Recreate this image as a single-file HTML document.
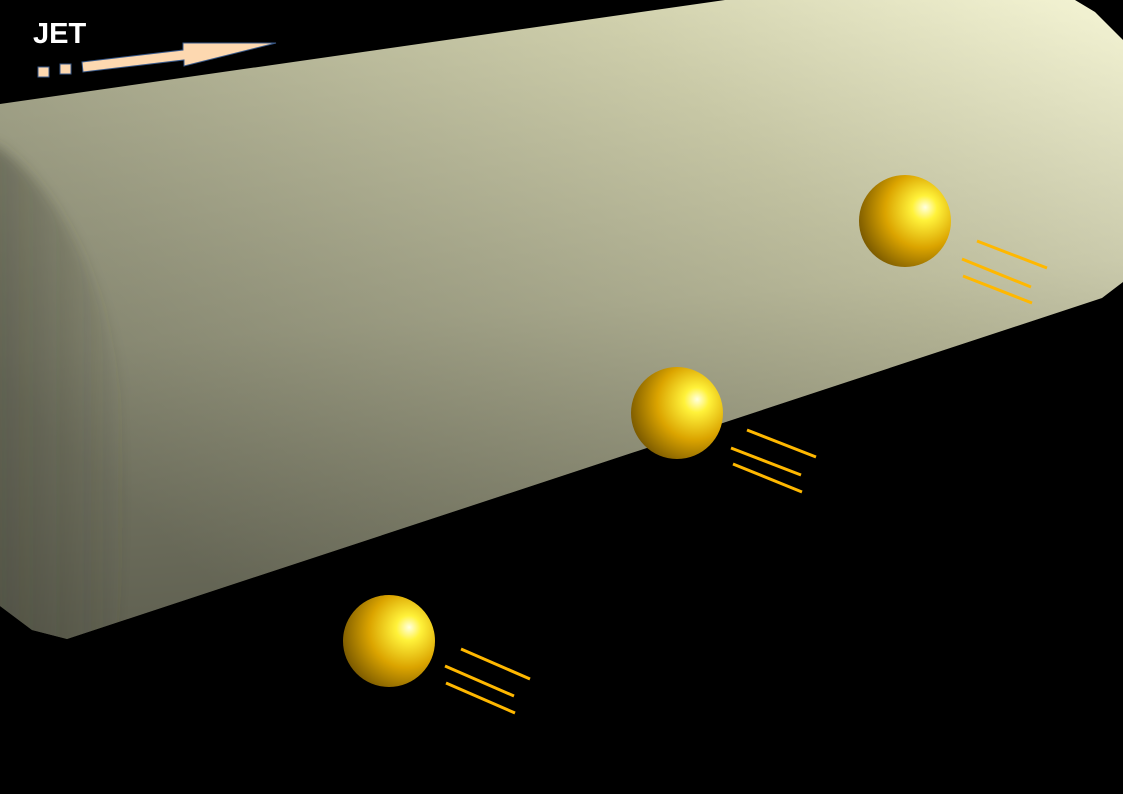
<!DOCTYPE html>
<html><head><meta charset="utf-8"><style>
html,body{margin:0;padding:0;background:#000;width:1123px;height:794px;overflow:hidden}
svg{display:block}
</style></head><body>
<svg width="1123" height="794" viewBox="0 0 1123 794">
<defs>
<linearGradient id="cylLong" x1="1" y1="0" x2="0" y2="0.6">
<stop offset="0" stop-color="#fbfbda"/>
<stop offset="0.35" stop-color="#d2d2ae"/>
<stop offset="1" stop-color="#8e8f78"/>
</linearGradient>
<linearGradient id="cylShade" x1="0.3" y1="0" x2="0.45" y2="1">
<stop offset="0" stop-color="#000" stop-opacity="0"/>
<stop offset="0.5" stop-color="#000" stop-opacity="0.12"/>
<stop offset="1" stop-color="#000" stop-opacity="0.35"/>
</linearGradient>
<linearGradient id="cap" x1="0" y1="0" x2="1" y2="0">
<stop offset="0" stop-color="#3f4035" stop-opacity="0.5"/>
<stop offset="0.7" stop-color="#3f4035" stop-opacity="0.2"/>
<stop offset="1" stop-color="#3f4035" stop-opacity="0.03"/>
</linearGradient>
<filter id="soft" x="-20%" y="-20%" width="140%" height="140%"><feGaussianBlur stdDeviation="6"/></filter>
<clipPath id="cylClip"><polygon points="0,104 725,0 1075,0 1095,12 1123,40 1123,282 1102,298 67,639 32,630 0,606"/></clipPath>
<radialGradient id="ball" cx="0.68" cy="0.4" r="0.75" fx="0.72" fy="0.35">
<stop offset="0" stop-color="#ffffe0"/>
<stop offset="0.18" stop-color="#fff23a"/>
<stop offset="0.55" stop-color="#dba400"/>
<stop offset="1" stop-color="#6e5000"/>
</radialGradient>
</defs>
<g>
<polygon points="0,104 725,0 1075,0 1095,12 1123,40 1123,282 1102,298 67,639 32,630 0,606" fill="url(#cylLong)"/>
<polygon points="0,104 725,0 1075,0 1095,12 1123,40 1123,282 1102,298 67,639 32,630 0,606" fill="url(#cylShade)"/>
<g clip-path="url(#cylClip)">
<path d="M-20,140 L0,148 C60,190 110,290 122,400 C128,480 125,560 118,640 L-20,660 Z" fill="url(#cap)" filter="url(#soft)"/>
</g>
</g>
<g>
<circle cx="905" cy="221" r="46" fill="url(#ball)"/>
<g stroke="#ffb800" stroke-width="3"><line x1="977" y1="241" x2="1047" y2="268"/><line x1="962" y1="259" x2="1031" y2="287"/><line x1="963" y1="276" x2="1032" y2="303"/></g>
</g>
<g>
<circle cx="677" cy="413" r="46" fill="url(#ball)"/>
<g stroke="#ffb800" stroke-width="3"><line x1="747" y1="430" x2="816" y2="457"/><line x1="731" y1="448" x2="801" y2="475"/><line x1="733" y1="464" x2="802" y2="492"/></g>
</g>
<g>
<circle cx="389" cy="641" r="46" fill="url(#ball)"/>
<g stroke="#ffb800" stroke-width="3"><line x1="461" y1="649" x2="530" y2="679"/><line x1="445" y1="666" x2="514" y2="696"/><line x1="446" y1="683" x2="515" y2="713"/></g>
</g>
<text x="33" y="43" fill="#fff" font-family="Liberation Sans, sans-serif" font-weight="bold" font-size="29">JET</text>
<g fill="#fdd8b0" stroke="#3a5a8a" stroke-width="1">
<rect x="38" y="67" width="11" height="10"/>
<rect x="60" y="64" width="11" height="10"/>
<polygon points="82,62 183,50 183,43 276,43 184,66 184,60 83,72"/>
</g>
</svg>
</body></html>
